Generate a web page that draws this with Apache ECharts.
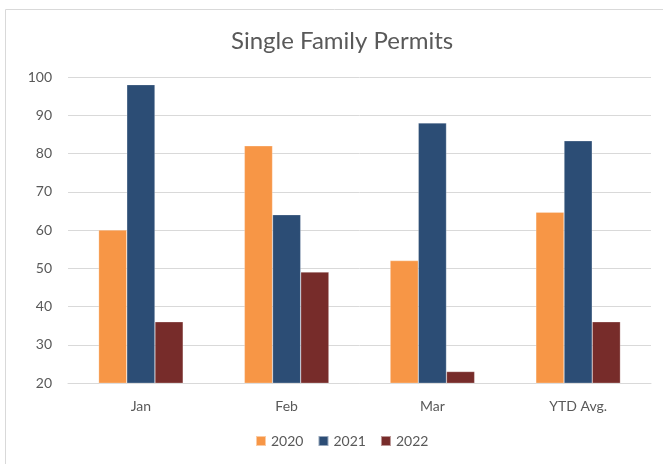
<!DOCTYPE html>
<html><head><meta charset="utf-8">
<script src="https://cdn.jsdelivr.net/npm/echarts@6/dist/echarts.min.js"></script>
<style>html,body{margin:0;padding:0;background:#fff}#c{width:663px;height:464px}</style>
</head><body><div id="c"></div>
<script>
var categories = ['Jan', 'Feb', 'Mar', 'YTD Avg.'];
var s2020 = [60, 82, 52, 64.67];
var s2021 = [98, 64, 88, 83.33];
var s2022 = [36, 49, 23, 36];
var seriesNames = ['2020', '2021', '2022'];
var colors = ['#F79646', '#2C4D75', '#772C2A'];
var font = 'Lato, "Open Sans", sans-serif';
var chart = echarts.init(document.getElementById('c'));
function mk(name, data, i) {
  return {name: name, type: 'bar', data: data, barGap: '0%', barCategoryGap: '42%',
    itemStyle: {color: colors[i], borderColor: 'rgba(255,255,255,0.5)', borderWidth: 0.5}};
}
chart.setOption({
  animation: false,
  color: colors,
  graphic: [{type: 'rect', shape: {x: 5.5, y: 9.5, width: 800, height: 600},
    style: {fill: 'none', stroke: '#d9d9d9', lineWidth: 1}, silent: true}],
  title: {text: 'Single Family Permits', left: 226, top: 24,
    textStyle: {fontFamily: font, fontSize: 24, fontWeight: 'normal', color: '#595959'}},
  legend: {bottom: 11, left: 250, itemWidth: 10, itemHeight: 10, itemGap: 14,
    icon: 'rect', textStyle: {fontFamily: font, fontSize: 14, color: '#595959'}},
  grid: {left: 68, right: 12, top: 77, bottom: 81},
  xAxis: {type: 'category', data: categories,
    axisLine: {lineStyle: {color: '#d9d9d9'}}, axisTick: {show: false},
    axisLabel: {fontFamily: font, fontSize: 14, color: '#595959', margin: 16}},
  yAxis: {type: 'value', min: 20, max: 100, interval: 10,
    axisLine: {show: false}, axisTick: {show: false},
    splitLine: {lineStyle: {color: '#d9d9d9'}},
    axisLabel: {fontFamily: font, fontSize: 14, color: '#595959', margin: 16}},
  series: [mk(seriesNames[0], s2020, 0), mk(seriesNames[1], s2021, 1), mk(seriesNames[2], s2022, 2)]
});
</script></body></html>
